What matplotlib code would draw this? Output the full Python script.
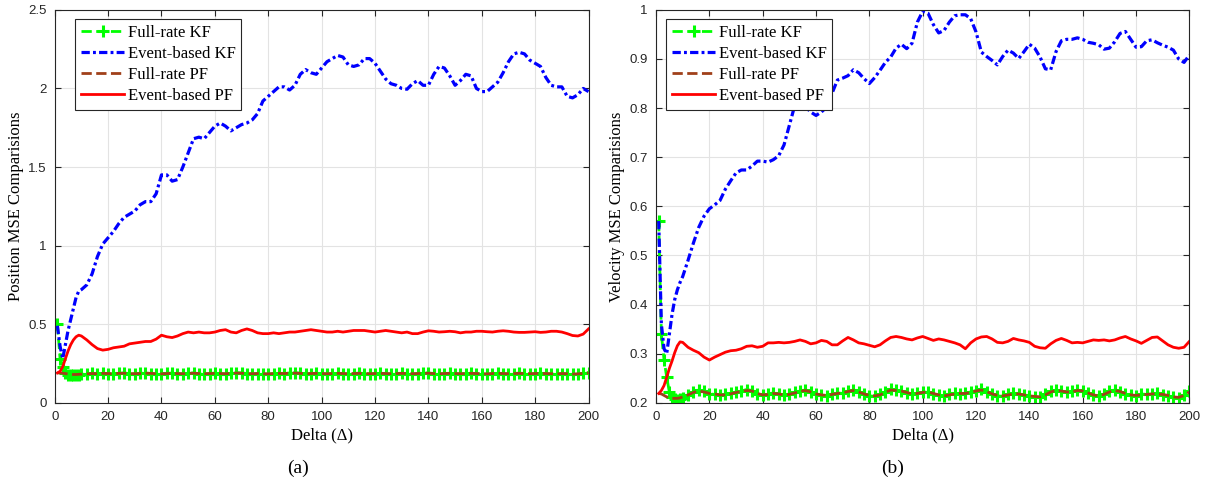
import numpy as np
import matplotlib
matplotlib.use("Agg")
import matplotlib.pyplot as plt

# ---------------- data ----------------
delta = [1, 2, 3, 4, 5, 6, 7, 8, 9, 10] + list(range(12, 201, 2))

# (a) position MSE
pos_kf_full = [0.5, 0.28, 0.23, 0.19, 0.178, 0.175, 0.174, 0.176, 0.178, 0.18,
               0.183, 0.187, 0.184, 0.188, 0.185, 0.183, 0.188, 0.19, 0.185, 0.184,
               0.187, 0.19, 0.186, 0.183, 0.182, 0.187, 0.189, 0.185, 0.184, 0.188,
               0.19, 0.185, 0.183, 0.186, 0.189, 0.185, 0.183, 0.188, 0.192, 0.19,
               0.186, 0.183, 0.186, 0.184, 0.182, 0.186, 0.188, 0.185, 0.19, 0.192,
               0.188, 0.184, 0.186, 0.188, 0.185, 0.183, 0.186, 0.188, 0.185, 0.183,
               0.186, 0.189, 0.186, 0.183, 0.186, 0.188, 0.185, 0.183, 0.186, 0.188,
               0.185, 0.183, 0.186, 0.189, 0.19, 0.186, 0.183, 0.186, 0.188, 0.185,
               0.183, 0.186, 0.189, 0.185, 0.183, 0.181, 0.186, 0.188, 0.185, 0.183,
               0.186, 0.189, 0.186, 0.183, 0.186, 0.188, 0.185, 0.183, 0.181, 0.186,
               0.184, 0.18, 0.182, 0.188, 0.192]
pos_kf_event = [0.49, 0.36, 0.28, 0.37, 0.46, 0.53, 0.6, 0.67, 0.71, 0.72,
                0.75, 0.82, 0.93, 1.01, 1.05, 1.09, 1.14, 1.18, 1.2, 1.22,
                1.26, 1.28, 1.28, 1.33, 1.45, 1.45, 1.41, 1.42, 1.5, 1.59,
                1.68, 1.69, 1.68, 1.72, 1.76, 1.78, 1.76, 1.73, 1.75, 1.77,
                1.78, 1.8, 1.84, 1.92, 1.95, 1.98, 2.01, 2.01, 1.99, 2.02,
                2.09, 2.12, 2.1, 2.09, 2.13, 2.17, 2.19, 2.21, 2.2, 2.15,
                2.14, 2.15, 2.19, 2.19, 2.16, 2.11, 2.06, 2.03, 2.02, 2.0,
                1.995, 2.03, 2.05, 2.02, 2.02, 2.09, 2.14, 2.13, 2.08, 2.02,
                2.05, 2.09, 2.08, 2.0, 1.98, 1.98, 2.01, 2.04, 2.1, 2.17,
                2.22, 2.23, 2.22, 2.18, 2.16, 2.14, 2.07, 2.02, 2.01, 2.01,
                1.95, 1.94, 1.96, 2.0, 1.98]
pos_pf_full = [0.19, 0.19, 0.188, 0.186, 0.183, 0.181, 0.18, 0.18, 0.181, 0.182,
               0.184, 0.186, 0.185, 0.187, 0.186, 0.185, 0.187, 0.188, 0.186, 0.185,
               0.186, 0.188, 0.187, 0.185, 0.184, 0.186, 0.187, 0.186, 0.185, 0.187,
               0.188, 0.186, 0.185, 0.186, 0.187, 0.186, 0.185, 0.187, 0.189, 0.188,
               0.186, 0.185, 0.186, 0.185, 0.184, 0.186, 0.187, 0.186, 0.188, 0.189,
               0.187, 0.185, 0.186, 0.187, 0.186, 0.185, 0.186, 0.187, 0.186, 0.185,
               0.186, 0.187, 0.186, 0.185, 0.186, 0.187, 0.186, 0.185, 0.186, 0.187,
               0.186, 0.185, 0.186, 0.187, 0.188, 0.186, 0.185, 0.186, 0.187, 0.186,
               0.185, 0.186, 0.187, 0.186, 0.185, 0.184, 0.186, 0.187, 0.186, 0.185,
               0.186, 0.187, 0.186, 0.185, 0.186, 0.187, 0.186, 0.185, 0.184, 0.186,
               0.185, 0.183, 0.184, 0.187, 0.19]
pos_pf_event = [0.19, 0.2, 0.23, 0.28, 0.33, 0.37, 0.4, 0.42, 0.43, 0.425,
                0.4, 0.37, 0.345, 0.335, 0.34, 0.35, 0.355, 0.36, 0.375, 0.38,
                0.385, 0.39, 0.39, 0.405, 0.43, 0.42, 0.415, 0.425, 0.44, 0.45,
                0.445, 0.45, 0.445, 0.445, 0.45, 0.46, 0.465, 0.45, 0.445, 0.46,
                0.47, 0.46, 0.445, 0.44, 0.44, 0.445, 0.44, 0.445, 0.45, 0.45,
                0.455, 0.46, 0.465, 0.46, 0.455, 0.45, 0.45, 0.455, 0.45, 0.455,
                0.46, 0.46, 0.46, 0.455, 0.45, 0.455, 0.46, 0.455, 0.45, 0.445,
                0.45, 0.44, 0.44, 0.45, 0.458, 0.455, 0.45, 0.452, 0.455, 0.452,
                0.445, 0.45, 0.45, 0.455, 0.455, 0.452, 0.45, 0.455, 0.458, 0.455,
                0.45, 0.448, 0.448, 0.45, 0.452, 0.448, 0.45, 0.455, 0.455, 0.45,
                0.44, 0.428, 0.425, 0.437, 0.47]

# (b) velocity MSE
vel_kf_full = [0.57, 0.34, 0.288, 0.252, 0.222, 0.212, 0.207, 0.206, 0.208, 0.21,
               0.215, 0.222, 0.226, 0.223, 0.218, 0.217, 0.215, 0.217, 0.219, 0.222,
               0.224, 0.227, 0.225, 0.218, 0.215, 0.218, 0.22, 0.217, 0.215, 0.218,
               0.221, 0.224, 0.226, 0.221, 0.217, 0.215, 0.214, 0.218, 0.22, 0.219,
               0.224, 0.227, 0.221, 0.217, 0.214, 0.213, 0.217, 0.222, 0.228, 0.226,
               0.223, 0.22, 0.217, 0.22, 0.222, 0.221, 0.218, 0.215, 0.213, 0.217,
               0.219, 0.218, 0.22, 0.222, 0.225, 0.228, 0.222, 0.217, 0.214, 0.213,
               0.217, 0.219, 0.217, 0.215, 0.213, 0.212, 0.211, 0.217, 0.223, 0.226,
               0.223, 0.221, 0.223, 0.226, 0.223, 0.219, 0.215, 0.213, 0.218, 0.223,
               0.226, 0.222, 0.218, 0.215, 0.214, 0.217, 0.218, 0.217, 0.219, 0.216,
               0.214, 0.211, 0.21, 0.216, 0.223]
vel_kf_event = [0.57, 0.36, 0.31, 0.3, 0.34, 0.38, 0.41, 0.43, 0.445, 0.457,
                0.49, 0.525, 0.557, 0.58, 0.595, 0.603, 0.612, 0.635, 0.652, 0.668,
                0.674, 0.674, 0.682, 0.692, 0.692, 0.69, 0.695, 0.703, 0.725, 0.765,
                0.805, 0.815, 0.803, 0.792, 0.785, 0.792, 0.802, 0.83, 0.857, 0.861,
                0.866, 0.878, 0.872, 0.86, 0.85, 0.862, 0.877, 0.893, 0.904, 0.922,
                0.93, 0.921, 0.932, 0.975, 0.997, 0.993, 0.97, 0.953, 0.958, 0.975,
                0.988, 0.99, 0.99, 0.982, 0.955, 0.914, 0.905, 0.897, 0.888, 0.905,
                0.918, 0.912, 0.901, 0.915, 0.93, 0.922, 0.904, 0.88, 0.878, 0.915,
                0.937, 0.94, 0.94, 0.943, 0.94, 0.934, 0.932, 0.929, 0.92, 0.922,
                0.935, 0.952, 0.956, 0.94, 0.924, 0.925, 0.937, 0.939, 0.933, 0.928,
                0.924, 0.918, 0.9, 0.893, 0.908]
vel_pf_full = [0.219, 0.218, 0.215, 0.212, 0.21, 0.209, 0.209, 0.209, 0.21, 0.212,
               0.216, 0.221, 0.224, 0.222, 0.219, 0.218, 0.216, 0.216, 0.218, 0.221,
               0.223, 0.225, 0.224, 0.219, 0.216, 0.217, 0.219, 0.218, 0.216, 0.217,
               0.22, 0.223, 0.225, 0.222, 0.218, 0.216, 0.215, 0.217, 0.219, 0.22,
               0.223, 0.225, 0.222, 0.218, 0.215, 0.214, 0.216, 0.221, 0.226, 0.225,
               0.224, 0.221, 0.218, 0.219, 0.221, 0.222, 0.219, 0.216, 0.214, 0.216,
               0.218, 0.219, 0.219, 0.221, 0.224, 0.226, 0.223, 0.218, 0.215, 0.214,
               0.216, 0.218, 0.218, 0.216, 0.214, 0.213, 0.212, 0.216, 0.222, 0.225,
               0.224, 0.222, 0.222, 0.225, 0.224, 0.22, 0.216, 0.214, 0.217, 0.222,
               0.225, 0.223, 0.219, 0.216, 0.215, 0.216, 0.217, 0.218, 0.218, 0.217,
               0.215, 0.212, 0.211, 0.215, 0.222]
vel_pf_event = [0.219, 0.225, 0.235, 0.252, 0.27, 0.285, 0.302, 0.316, 0.324, 0.323,
                0.313, 0.307, 0.302, 0.293, 0.287, 0.293, 0.298, 0.303, 0.306, 0.307,
                0.31, 0.315, 0.316, 0.313, 0.315, 0.322, 0.322, 0.323, 0.322, 0.323,
                0.325, 0.328, 0.325, 0.32, 0.322, 0.327, 0.325, 0.318, 0.318, 0.326,
                0.333, 0.328, 0.322, 0.32, 0.317, 0.314, 0.318, 0.326, 0.333, 0.335,
                0.333, 0.33, 0.328, 0.332, 0.335, 0.331, 0.327, 0.33, 0.328, 0.325,
                0.322, 0.318, 0.31, 0.322, 0.33, 0.334, 0.335, 0.33, 0.323, 0.322,
                0.325, 0.331, 0.328, 0.326, 0.323, 0.315, 0.312, 0.311, 0.32, 0.327,
                0.331, 0.327, 0.322, 0.323, 0.322, 0.325, 0.328, 0.327, 0.328, 0.326,
                0.328, 0.332, 0.335, 0.33, 0.326, 0.321, 0.327, 0.333, 0.334, 0.326,
                0.318, 0.313, 0.311, 0.313, 0.325]

labels = ["Full-rate KF", "Event-based KF", "Full-rate PF", "Event-based PF"]
x_ticks = list(range(0, 201, 20))
pos_ticks = [0, 0.5, 1, 1.5, 2, 2.5]
vel_ticks = [0.2, 0.3, 0.4, 0.5, 0.6, 0.7, 0.8, 0.9, 1]

# ---------------- style ----------------
serif = ["Liberation Serif", "DejaVu Serif"]
plt.rcParams["font.family"] = ["Liberation Sans", "DejaVu Sans"]
plt.rcParams["axes.linewidth"] = 0.8

fig = plt.figure(figsize=(12.16, 4.93), dpi=100)
ax_a = fig.add_axes([0.045, 0.183, 0.439, 0.797])
ax_b = fig.add_axes([0.5395, 0.183, 0.4386, 0.797])


def draw(ax, kf_full, kf_event, pf_full, pf_event, yticks, ylabel, leg_x):
    # urutan sama dengan legend
    ax.plot(delta, kf_full, color="#00ff00", ls="--", lw=2, marker="+",
            ms=8, mew=2.2, label=labels[0])
    ax.plot(delta, kf_event, color="#0000ff", lw=2.3, label=labels[1],
            dashes=(2.6, 1.0, 0.9, 1.0))
    ax.plot(delta, pf_full, color="#a0401a", ls="--", lw=2, label=labels[2])
    ax.plot(delta, pf_event, color="#ff0000", ls="-", lw=2, label=labels[3])

    ax.set_xlim(0, 200)
    ax.set_ylim(yticks[0], yticks[-1])
    ax.set_xticks(x_ticks)
    ax.set_yticks(yticks)
    ax.set_yticklabels(["%g" % t for t in yticks])
    ax.tick_params(direction="in", top=True, right=True, length=4,
                   width=0.8, labelsize=9.5, colors="#262626", pad=6)
    for sp in ax.spines.values():
        sp.set_color("#262626")
    ax.grid(True, color="#e3e3e3", lw=0.8)
    ax.set_axisbelow(True)

    ax.set_xlabel("Delta (\u0394)", family=serif, fontsize=12, labelpad=3)
    ax.set_ylabel(ylabel, family=serif, fontsize=12, labelpad=3)

    leg = ax.legend(loc="upper left", bbox_to_anchor=(leg_x, 0.977),
                    borderaxespad=0, prop={"family": serif, "size": 12},
                    handlelength=2.6, handletextpad=0.2, labelspacing=0.3,
                    borderpad=0.35, fancybox=False, framealpha=1,
                    edgecolor="#262626")
    leg.get_frame().set_linewidth(0.8)


draw(ax_a, pos_kf_full, pos_kf_event, pos_pf_full, pos_pf_event,
     pos_ticks, "Position MSE Comparisions", 0.038)
draw(ax_b, vel_kf_full, vel_kf_event, vel_pf_full, vel_pf_event,
     vel_ticks, "Velocity MSE Comparisions", 0.019)

fig.text(0.245, 0.05, "(a)", family=serif, fontsize=14, ha="center", va="center")
fig.text(0.734, 0.05, "(b)", family=serif, fontsize=14, ha="center", va="center")

fig.savefig("out.png", dpi=100)
